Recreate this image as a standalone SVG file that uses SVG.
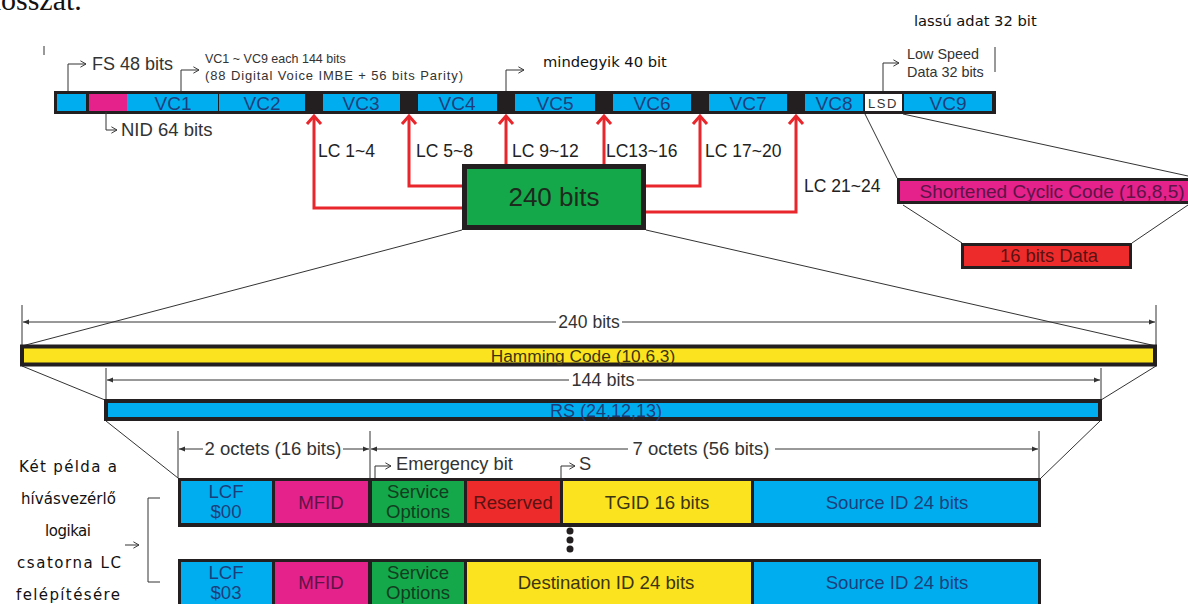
<svg xmlns="http://www.w3.org/2000/svg" width="1188" height="604" viewBox="0 0 1188 604">
<defs>
<style>
.s{font-family:"Liberation Sans",Arial,sans-serif}
.c{font-family:"DejaVu Sans","Noto Sans",sans-serif}
.thin{stroke:#333;stroke-width:1;fill:none}
.red{stroke:#e8262b;stroke-width:3;fill:none}
.mid{text-anchor:middle}
.cy{fill:#00aeef}.mg{fill:#e5218c}.gr{fill:#14a84b}.rd{fill:#ee2b2b}.yl{fill:#fbe41f}
.tcy{fill:#1c3f7c}.tmg{fill:#5e1447}.tgr{fill:#123d20}.trd{fill:#5a1212}.tyl{fill:#3b3512}
</style>
<marker id="ah" viewBox="0 0 10 10" refX="10" refY="5" markerWidth="8" markerHeight="6" orient="auto-start-reverse" markerUnits="userSpaceOnUse"><path d="M0,1 L10,5 L0,9 Z" fill="#333"/></marker>
<marker id="oa" viewBox="0 0 10 10" refX="9" refY="5" markerWidth="8" markerHeight="8" orient="auto" markerUnits="userSpaceOnUse"><path d="M2,1 L9,5 L2,9" fill="none" stroke="#333" stroke-width="1.2"/></marker>
</defs>
<rect width="1188" height="604" fill="#fff"/>
<text x="-14" y="10" font-family="Liberation Serif,serif" font-size="30" fill="#111">hosszát.</text>

<g id="frame">
<rect x="54" y="91" width="942" height="23" fill="#231f20"/>
<rect class="cy" x="57" y="94" width="29" height="17"/>
<rect class="mg" x="89" y="94" width="38" height="17"/>
<rect class="cy" x="127" y="94" width="91" height="17"/>
<rect class="cy" x="219" y="94" width="86" height="17"/>
<rect class="cy" x="323" y="94" width="77" height="17"/>
<rect class="cy" x="418" y="94" width="79" height="17"/>
<rect class="cy" x="515" y="94" width="80" height="17"/>
<rect class="cy" x="613" y="94" width="78" height="17"/>
<rect class="cy" x="709" y="94" width="78" height="17"/>
<rect class="cy" x="805" y="94" width="58" height="17"/>
<rect x="865" y="94" width="37" height="17" fill="#fff"/>
<rect class="cy" x="904" y="94" width="88" height="17"/>
<g class="s tcy mid" font-size="19">
<text x="173" y="110">VC1</text><text x="262" y="110">VC2</text><text x="361" y="110">VC3</text>
<text x="457" y="110">VC4</text><text x="555" y="110">VC5</text><text x="652" y="110">VC6</text>
<text x="748" y="110">VC7</text><text x="834" y="110">VC8</text><text x="948" y="110">VC9</text>
</g>
<text class="s mid" x="883" y="108" font-size="13" fill="#333" letter-spacing="1.5">LSD</text>
</g>

<g id="top-labels">
<line class="thin" x1="44" y1="46" x2="44" y2="55"/>
<path class="thin" d="M68,91 V64 H86" marker-end="url(#oa)"/>
<text class="s" x="92" y="70" font-size="18" fill="#333">FS 48 bits</text>
<path class="thin" d="M181,91 V70 H199" marker-end="url(#oa)"/>
<text class="s" x="205" y="63" font-size="12.5" fill="#333">VC1 ~ VC9 each 144 bits</text>
<text class="s" x="205" y="80" font-size="13" fill="#333" textLength="258">(88 Digital Voice IMBE + 56 bits Parity)</text>
<path class="thin" d="M106,112 V130 H117" marker-end="url(#oa)"/>
<text class="s" x="121" y="136" font-size="18.5" fill="#333">NID 64 bits</text>
<path class="thin" d="M506,91 V70 H524" marker-end="url(#oa)"/>
<text class="c" x="543" y="67" font-size="14.7" fill="#111">mindegyik 40 bit</text>
<text class="c" x="914" y="26" font-size="14.7" fill="#111">lassú adat 32 bit</text>
<path class="thin" d="M883,91 V63 H899" marker-end="url(#oa)"/>
<text class="s" x="907" y="59" font-size="14.4" fill="#333">Low Speed</text>
<text class="s" x="907" y="77" font-size="14.4" fill="#333">Data 32 bits</text>
<line class="thin" x1="995" y1="47" x2="995" y2="72"/>
</g>

<g id="connectors">
<path class="red" d="M462,208 H314 V116"/>
<path class="red" d="M462,186 H409 V116"/>
<path class="red" d="M506,164 V116"/>
<path class="red" d="M604,164 V116"/>
<path class="red" d="M646,186 H700 V116"/>
<path class="red" d="M646,212 H796 V116"/>
<g class="red">
<path d="M307,124 L314,116 L321,124"/><path d="M402,124 L409,116 L416,124"/>
<path d="M499,124 L506,116 L513,124"/><path d="M597,124 L604,116 L611,124"/>
<path d="M693,124 L700,116 L707,124"/><path d="M789,124 L796,116 L803,124"/>
</g>
<g class="thin">
<line x1="865" y1="114" x2="897" y2="178"/>
<line x1="903" y1="114" x2="1188" y2="176"/>
<line x1="903" y1="205" x2="962" y2="243"/>
<line x1="1132" y1="243" x2="1188" y2="205"/>
<line x1="462" y1="230" x2="22" y2="346"/>
<line x1="646" y1="230" x2="1156" y2="346"/>
<line x1="22" y1="366" x2="105" y2="400"/>
<line x1="1156" y1="366" x2="1101" y2="400"/>
<line x1="106" y1="421" x2="178" y2="478"/>
<line x1="1100" y1="421" x2="1041" y2="478"/>
</g>
</g>

<g id="lc-labels" class="s" font-size="17.5" fill="#222">
<text x="318" y="157">LC 1~4</text>
<text x="416" y="157">LC 5~8</text>
<text x="512" y="157">LC 9~12</text>
<text x="606" y="157">LC13~16</text>
<text x="705" y="157">LC 17~20</text>
<text x="804" y="192">LC 21~24</text>
</g>

<g id="lc240">
<rect x="464.5" y="166.5" width="179" height="61" class="gr" stroke="#231f20" stroke-width="5"/>
<text class="s mid" x="554" y="206" font-size="26" fill="#1d2a1d">240 bits</text>
</g>

<g id="scc">
<rect x="898.5" y="179.5" width="295" height="23" class="mg" stroke="#231f20" stroke-width="3"/>
<text class="s mid tmg" x="1052" y="198" font-size="19">Shortened Cyclic Code (16,8,5)</text>
</g>
<g id="data16">
<rect x="962.5" y="244.5" width="168" height="23" class="rd" stroke="#231f20" stroke-width="3"/>
<text class="s mid trd" x="1049" y="262" font-size="18.4">16 bits Data</text>
</g>

<g id="dim240">
<line class="thin" x1="22" y1="305" x2="22" y2="346"/>
<line class="thin" x1="1156" y1="305" x2="1156" y2="346"/>
<line class="thin" x1="23" y1="322" x2="1155" y2="322" marker-start="url(#ah)" marker-end="url(#ah)"/>
<rect x="556" y="312" width="66" height="20" fill="#fff"/>
<text class="s mid" x="589" y="328" font-size="17.5" fill="#333">240 bits</text>
</g>
<g id="hamming">
<rect x="22" y="346.5" width="1133" height="18" class="yl" stroke="#231f20" stroke-width="4"/>
<text class="s mid tyl" x="583" y="362" font-size="17.3">Hamming  Code (10,6,3)</text>
</g>
<g id="dim144">
<line class="thin" x1="106" y1="368" x2="106" y2="400"/>
<line class="thin" x1="1101" y1="368" x2="1101" y2="400"/>
<line class="thin" x1="107" y1="380" x2="1100" y2="380" marker-start="url(#ah)" marker-end="url(#ah)"/>
<rect x="569" y="370" width="68" height="20" fill="#fff"/>
<text class="s mid" x="603" y="386" font-size="18" fill="#333">144 bits</text>
</g>
<g id="rs">
<rect x="106" y="401" width="994" height="18" class="cy" stroke="#231f20" stroke-width="4"/>
<text class="s mid tcy" x="606" y="417" font-size="18">RS (24,12,13)</text>
</g>

<g id="dim-octets">
<line class="thin" x1="178" y1="431" x2="178" y2="478"/>
<line class="thin" x1="370" y1="431" x2="370" y2="478"/>
<line class="thin" x1="1039" y1="431" x2="1039" y2="478"/>
<line class="thin" x1="179" y1="449" x2="369" y2="449" marker-start="url(#ah)" marker-end="url(#ah)"/>
<line class="thin" x1="371" y1="449" x2="1038" y2="449" marker-start="url(#ah)" marker-end="url(#ah)"/>
<rect x="203" y="440" width="140" height="18" fill="#fff"/>
<text class="s mid" x="273" y="455" font-size="18.5" fill="#333">2 octets (16 bits)</text>
<rect x="628" y="440" width="147" height="18" fill="#fff"/>
<text class="s mid" x="701" y="455" font-size="18.5" fill="#333">7 octets (56 bits)</text>
<path class="thin" d="M375,478 V466 H391" marker-end="url(#oa)"/>
<text class="s" x="396" y="470" font-size="18.3" fill="#333">Emergency bit</text>
<path class="thin" d="M561,478 V466 H575" marker-end="url(#oa)"/>
<text class="s" x="579" y="470" font-size="18.3" fill="#333">S</text>
</g>

<g id="lc-row1">
<rect x="178" y="478" width="863" height="49" fill="#231f20"/>
<rect class="cy" x="181" y="481" width="91" height="42"/>
<rect class="mg" x="275" y="481" width="93" height="42"/>
<rect class="gr" x="372" y="481" width="92" height="42"/>
<rect class="rd" x="467" y="481" width="93" height="42"/>
<rect class="yl" x="563" y="481" width="188" height="42"/>
<rect class="cy" x="754" y="481" width="284" height="42"/>
<g class="s mid" font-size="18.6">
<text class="tcy" x="226" y="498">LCF</text><text class="tcy" x="226" y="518">$00</text>
<text class="tmg" x="321" y="509">MFID</text>
<text class="tgr" x="418" y="498">Service</text><text class="tgr" x="418" y="518">Options</text>
<text class="trd" x="513" y="509">Reserved</text>
<text class="tyl" x="657" y="509">TGID 16 bits</text>
<text class="tcy" x="897" y="509">Source ID 24 bits</text>
</g>
</g>
<g id="dots" fill="#231f20">
<circle cx="570" cy="531" r="3.5"/><circle cx="570" cy="540" r="3.5"/><circle cx="570" cy="549" r="3.5"/>
</g>
<g id="lc-row2">
<rect x="178" y="559" width="863" height="50" fill="#231f20"/>
<rect class="cy" x="181" y="562" width="91" height="44"/>
<rect class="mg" x="275" y="562" width="93" height="44"/>
<rect class="gr" x="372" y="562" width="92" height="44"/>
<rect class="yl" x="467" y="562" width="284" height="44"/>
<rect class="cy" x="754" y="562" width="284" height="44"/>
<g class="s mid" font-size="18.6">
<text class="tcy" x="226" y="579">LCF</text><text class="tcy" x="226" y="599">$03</text>
<text class="tmg" x="321" y="589">MFID</text>
<text class="tgr" x="418" y="579">Service</text><text class="tgr" x="418" y="599">Options</text>
<text class="tyl" x="606" y="589">Destination ID 24 bits</text>
<text class="tcy" x="897" y="589">Source ID 24 bits</text>
</g>
</g>

<g id="note" class="c" font-size="15" fill="#111">
<text x="19" y="472" textLength="98">Két példa a</text>
<text x="21" y="504" textLength="95">hívásvezérlő</text>
<text x="45" y="536" textLength="46">logikai</text>
<text x="17" y="568" textLength="104">csatorna LC</text>
<text x="16" y="600" textLength="104">felépítésére</text>
<path class="thin" d="M125,545 H139" marker-end="url(#oa)"/>
<path class="thin" d="M160,498 H148 V582 H160"/>
</g>
</svg>
